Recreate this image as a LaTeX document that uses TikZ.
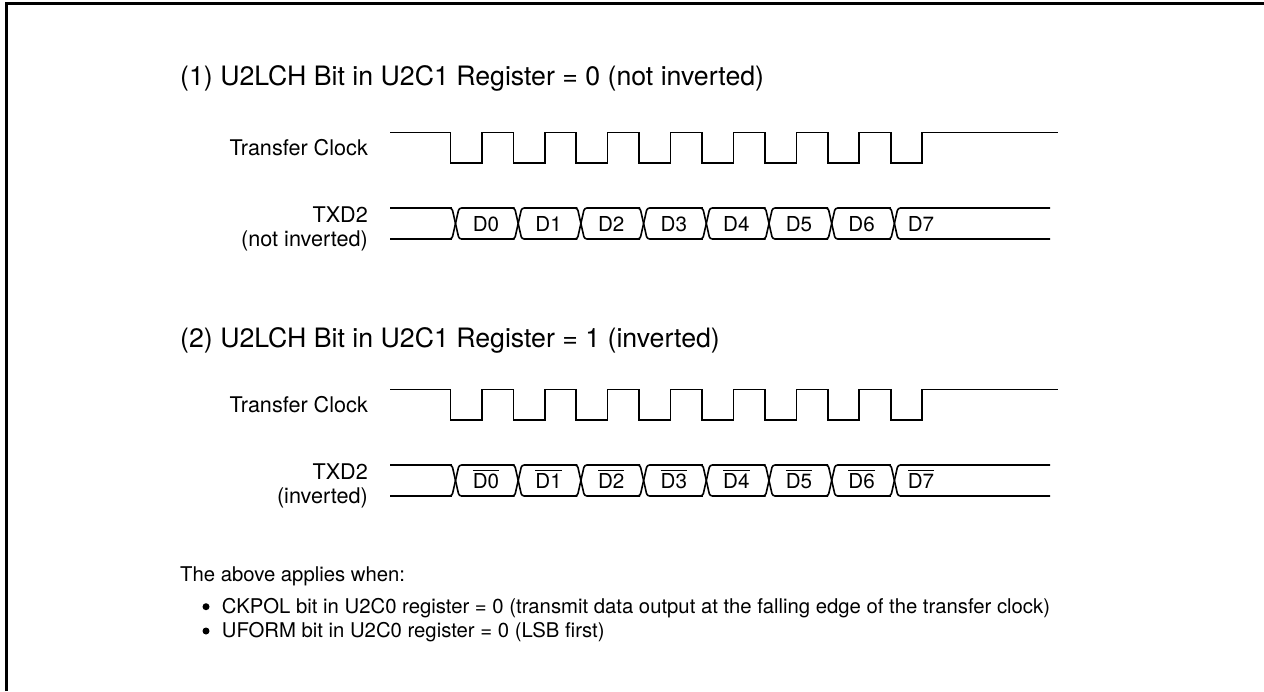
\documentclass[tikz,border=0pt]{standalone}
\usepackage{fontspec}
\setmainfont{TeX Gyre Heros}
\newcommand\ovl[1]{\leavevmode\vbox{\hrule height 1pt \kern 2.4pt \hbox{#1}}}
\newcommand\fsz[1]{\fontsize{#1}{#1}\selectfont}
\tikzset{
  wave/.style={line width=1.6pt,line join=miter},
  frameline/.style={line width=3pt},
  title/.style={anchor=base west,inner sep=0pt,font=\fsz{26.7}},
  sig/.style={anchor=base east,inner sep=0pt,font=\fsz{21.6}},
  bit/.style={anchor=base,inner sep=0pt,font=\fsz{20.6}},
  note/.style={anchor=base west,inner sep=0pt,font=\fsz{20.3}},
  dot/.style={circle,fill=black,inner sep=0pt,minimum size=7pt}
}
\newcommand\timing[5]{%
 \begin{scope}[yshift=-#1pt]
  \node[title] (title#1) at (180,#5) {#2};
  \node[sig] (clk#1) at (368,155) {Transfer Clock};
  \node[sig] (txd#1) at (368,222.7) {TXD2};
  \node[sig] (sub#1) at (368,246.7) {#3};
  \draw[wave] (390,132.5) -- (450.4,132.5)
    -- ++(0,30.5) -- ++(31.4,0) -- ++(0,-30.5) -- ++(31.5,0)
    -- ++(0,30.5) -- ++(31.4,0) -- ++(0,-30.5) -- ++(31.5,0)
    -- ++(0,30.5) -- ++(31.4,0) -- ++(0,-30.5) -- ++(31.5,0)
    -- ++(0,30.5) -- ++(31.4,0) -- ++(0,-30.5) -- ++(31.5,0)
    -- ++(0,30.5) -- ++(31.4,0) -- ++(0,-30.5) -- ++(31.5,0)
    -- ++(0,30.5) -- ++(31.4,0) -- ++(0,-30.5) -- ++(31.5,0)
    -- ++(0,30.5) -- ++(31.4,0) -- ++(0,-30.5) -- ++(31.5,0)
    -- ++(0,30.5) -- ++(31.0,0) -- ++(0,-30.5) -- (1057.7,132.5);
  \draw[wave] (390,208) -- (452,208);
  \draw[wave] (390,239) -- (452,239);
  \foreach \k in {0,...,7} {
    \pgfmathsetmacro\c{455.5+62.7*\k}
    \pgfmathsetmacro\e{\k==7 ? 1050 : \c+59.2}
    \draw[wave,line join=round,rounded corners=2.5pt]
      (\c-6,208) -- (\c-3.5,208) -- (\c+3.5,239) -- (\e,239);
    \draw[wave,line join=round,rounded corners=2.5pt]
      (\c-6,239) -- (\c-3.5,239) -- (\c+3.5,208) -- (\e,208);
    \pgfmathsetmacro\lx{\k==7 ? 921 : 486+62.6*\k}
    \node[bit] (b#1x\k) at (\lx,231.7) {\ifnum#4=1 \ovl{D\k}\else D\k\fi};
  }
 \end{scope}}
\begin{document}
\begin{tikzpicture}[x=1pt,y=-1pt]
  \useasboundingbox (0,0) rectangle (1264,691);
  \draw[frameline] (6.5,691) -- (6.5,3.5) -- (1264,3.5);
  \timing{0}{(1) U2LCH Bit in U2C1 Register = 0 (not inverted)}{(not inverted)}{0}{85.7}
  \timing{257}{(2) U2LCH Bit in U2C1 Register = 1 (inverted)}{(inverted)}{1}{90.3}
  \node[note] (n0) at (180,581.7) {The above applies when:};
  \node[dot] (d1) at (206,606.7) {};
  \node[note] (n1) at (221.7,613.3) {CKPOL bit in U2C0 register = 0 (transmit data output at the falling edge of the transfer clock)};
  \node[dot] (d2) at (206,631) {};
  \node[note] (n2) at (221.7,637.3) {UFORM bit in U2C0 register = 0 (LSB first)};
\end{tikzpicture}
\end{document}
